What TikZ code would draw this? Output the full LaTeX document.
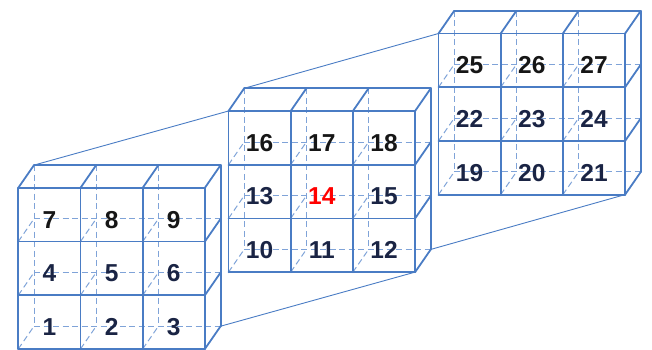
\documentclass[tikz,border=0pt]{standalone}
\usepackage{fontspec}
\setmainfont{Liberation Sans}
\definecolor{edgeblue}{HTML}{4A7CC4}
\definecolor{hidblue}{HTML}{7FA3D8}
\definecolor{numdark}{HTML}{161616}
\definecolor{numnavy}{HTML}{1A2444}
\definecolor{numred}{HTML}{FF0000}
\begin{document}
\begin{tikzpicture}[x=1pt,y=-1pt,
  solidedge/.style={draw=edgeblue,line width=1.8pt,line cap=round,line join=round},
  hidden/.style={draw=hidblue,line width=1pt,dash pattern=on 6pt off 3.5pt},
  link/.style={draw=edgeblue,line width=0.9pt},
  num/.style={font=\fontsize{24.5}{29}\selectfont\bfseries,inner sep=0pt,anchor=center}]
\useasboundingbox (0,0) rectangle (652,349);
\def\cw{62.2}\def\ch{53.7}\def\ddx{15.7}\def\ddy{-22.7}
\foreach \k/\ox/\oy in {0/18.3/187.8,1/228.5/111,2/438.5/33.5}{
  \foreach \c in {0,...,3}{
    \foreach \r in {0,...,3}{
      \coordinate (F\k-\c-\r) at ({\ox+\c*\cw},{\oy+\r*\ch});
      \coordinate (B\k-\c-\r) at ({\ox+\c*\cw+\ddx},{\oy+\r*\ch+\ddy});
    }
  }
}
% links between blocks
\draw[link] (B0-0-0) -- (F1-0-0);
\draw[link] (B1-0-0) -- (F2-0-0);
\draw[link] (B0-3-3) -- (F1-3-3);
\draw[link] (B1-3-3) -- (F2-3-3);
\foreach \k in {0,1,2}{
  % hidden edges
  \foreach \c in {0,1,2} \draw[hidden] (B\k-\c-0) -- (B\k-\c-3);
  \foreach \r in {1,2,3} \draw[hidden] (B\k-0-\r) -- (B\k-3-\r);
  \foreach \c in {0,1,2}{\foreach \r in {1,2,3} \draw[hidden] (F\k-\c-\r) -- (B\k-\c-\r);}
  % visible edges
  \foreach \c in {0,...,3} \draw[solidedge] (F\k-\c-0) -- (F\k-\c-3);
  \foreach \r in {0,...,3} \draw[solidedge] (F\k-0-\r) -- (F\k-3-\r);
  \draw[solidedge] (B\k-0-0) -- (B\k-3-0) -- (B\k-3-3);
  \foreach \c in {0,1,2} \draw[solidedge] (F\k-\c-0) -- (B\k-\c-0);
  \foreach \r in {0,...,3} \draw[solidedge] (F\k-3-\r) -- (B\k-3-\r);
}
% labels
\foreach \k/\ox/\oy in {0/18.3/187.8,1/228.5/111,2/438.5/33.5}{
  \foreach \c in {0,1,2}{
    \foreach \r in {0,1,2}{
      \pgfmathtruncatemacro{\n}{9*\k+(2-\r)*3+\c+1}
      \ifnum\n=14\def\tc{numred}\else\ifnum\r=0\def\tc{numdark}\else\def\tc{numnavy}\fi\fi
      \node[num,text=\tc] (n\n) at ({\ox+(\c+0.5)*\cw},{\oy+(\r+0.5)*\ch+5}) {\n};
    }
  }
}
\end{tikzpicture}
\end{document}
